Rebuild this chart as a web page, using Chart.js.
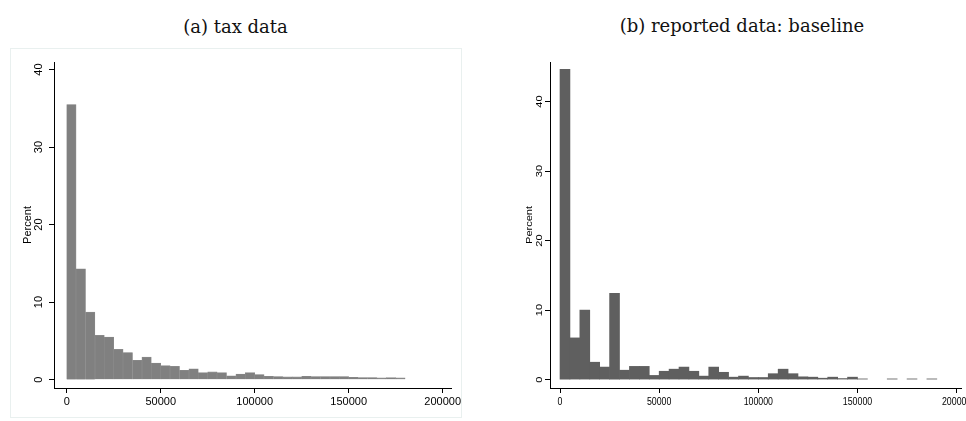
<!DOCTYPE html>
<html>
<head>
<meta charset="utf-8">
<script src="https://cdn.jsdelivr.net/npm/chart.js@4.4.1/dist/chart.umd.min.js"></script>
<style>
  html, body { margin:0; padding:0; background:#fff; width:966px; height:421px; overflow:hidden; position:relative; }
  .title { position:absolute; font-family:"DejaVu Serif", serif; font-size:18px; color:#111; white-space:nowrap; transform:translate(-50%,-50%); }
  #frameA { position:absolute; left:10px; top:48px; width:452px; height:370px; border:1px solid #e9f0ef; box-sizing:border-box; }
  #wa { position:absolute; left:0; top:0; width:480px; height:421px; }
  #wb { position:absolute; left:480px; top:0; width:520px; height:421px; }
</style>
</head>
<body>
<div id="frameA"></div>
<div class="title" style="left:235.5px; top:26px;">(a) tax data</div>
<div class="title" style="left:742px; top:25px;">(b) reported data: baseline</div>
<div id="wa"><canvas id="ca"></canvas></div>
<div id="wb"><canvas id="cb"></canvas></div>
<script>
// ---- data ----
const binWidth = 5000;
const xTickValues = [0, 50000, 100000, 150000, 200000];
const yTickValues = [0, 10, 20, 30, 40];
const yAxisLabel = "Percent";
// (a) tax data: percent per 5000-wide bin starting at 0
const taxPercent = [35.5, 14.3, 8.7, 5.7, 5.5, 3.9, 3.5, 2.5, 2.9, 2.15,
                    1.8, 1.7, 1.2, 1.4, 0.9, 1.0, 0.9, 0.5, 0.72, 0.9,
                    0.65, 0.43, 0.4, 0.35, 0.35, 0.43, 0.4, 0.4, 0.4, 0.4,
                    0.3, 0.27, 0.27, 0.22, 0.25, 0.22];
// (b) reported data: baseline
const reportedPercent = [44.65, 6.0, 10.0, 2.5, 1.8, 12.4, 1.35, 1.9, 1.9, 0.6,
                         1.2, 1.5, 1.8, 1.2, 0.5, 1.8, 1.05, 0.35, 0.5, 0.3,
                         0.3, 0.85, 1.5, 0.85, 0.4, 0.35, 0.2, 0.35, 0.15, 0.35,
                         0.1, 0, 0, 0.1, 0, 0.1, 0, 0.1];

function toPoints(arr) {
  return arr.map((v, i) => ({ x: i * binWidth + binWidth / 2, y: v === 0 ? null : v }));
}

const axisLabelPlugin = {
  id: 'axisLabels',
  afterDraw(chart, args, opts) {
    const ctx = chart.ctx;
    const ys = chart.scales.y, xs = chart.scales.x;
    const area = chart.chartArea;
    ctx.save();
    ctx.fillStyle = '#000';
    ctx.font = '11px "Liberation Sans", Arial, sans-serif';
    ctx.textAlign = 'center';
    ctx.textBaseline = 'middle';
    for (const v of yTickValues) {
      const y = ys.getPixelForValue(v);
      ctx.save();
      ctx.translate(area.left - opts.tickOff, y);
      ctx.scale(opts.sx, 1);
      ctx.rotate(-Math.PI / 2);
      ctx.fillText(String(v), 0, 0);
      ctx.restore();
    }
    const midY = (area.top + area.bottom) / 2;
    ctx.save();
    ctx.translate(area.left - opts.titleOff, midY);
    ctx.scale(opts.sx, 1);
    ctx.rotate(-Math.PI / 2);
    ctx.fillText(yAxisLabel, 0, 0);
    ctx.restore();
    ctx.textBaseline = 'alphabetic';
    for (const v of xTickValues) {
      const x = xs.getPixelForValue(v);
      ctx.save();
      ctx.translate(x, area.bottom + opts.xLabOff);
      ctx.scale(opts.sx, 1);
      ctx.fillText(String(v), 0, 0);
      ctx.restore();
    }
    ctx.restore();
  }
};

function makeChart(id, data, color, border, cfg) {
  const canvas = document.getElementById(id);
  return new Chart(canvas, {
    type: 'bar',
    data: {
      datasets: [{
        data: toPoints(data),
        backgroundColor: color,
        borderColor: border,
        borderWidth: cfg.bw,
        barPercentage: 1,
        categoryPercentage: 1
      }]
    },
    options: {
      responsive: true,
      maintainAspectRatio: false,
      animation: false,
      events: [],
      layout: { padding: { top: cfg.top, left: 0, right: cfg.right, bottom: 0 } },
      plugins: { legend: { display: false }, tooltip: { enabled: false },
                 axisLabels: { tickOff: cfg.tickOff, titleOff: cfg.titleOff, sx: cfg.sx, xLabOff: 17 } },
      scales: {
        x: {
          type: 'linear',
          offset: false,
          min: cfg.xmin, max: cfg.xmax,
          afterBuildTicks: s => { s.ticks = xTickValues.map(v => ({ value: v })); },
          afterFit: s => { s.height = 421 - cfg.bottom; },
          ticks: { display: false },
          grid: { display: true, offset: false, drawOnChartArea: false, drawTicks: true, tickLength: 5, color: '#000', lineWidth: 1 },
          border: { display: true, color: '#000', width: 1 }
        },
        y: {
          min: cfg.ymin, max: cfg.ymax,
          afterBuildTicks: s => { s.ticks = yTickValues.map(v => ({ value: v })); },
          afterFit: s => { s.width = cfg.left; },
          ticks: { display: false },
          grid: { display: true, offset: false, drawOnChartArea: false, drawTicks: true, tickLength: 5, color: '#000', lineWidth: 1 },
          border: { display: true, color: '#000', width: 1 }
        }
      }
    },
    plugins: [axisLabelPlugin]
  });
}

makeChart('ca', taxPercent, '#808080', '#8c8c8c', {
  bw: 0.6, top: 62, right: 29, bottom: 388, left: 54,
  xmin: -6755, xmax: 204400, ymin: -1.08, ymax: 40.98,
  tickOff: 15, titleOff: 26.5, sx: 1
});
makeChart('cb', reportedPercent, '#5f5f5f', '#5f5f5f', {
  bw: 0, top: 62, right: 39, bottom: 388, left: 70,
  xmin: -5050, xmax: 202200, ymin: -1.21, ymax: 45.7,
  tickOff: 10, titleOff: 20.6, sx: 0.8
});
</script>
</body>
</html>
